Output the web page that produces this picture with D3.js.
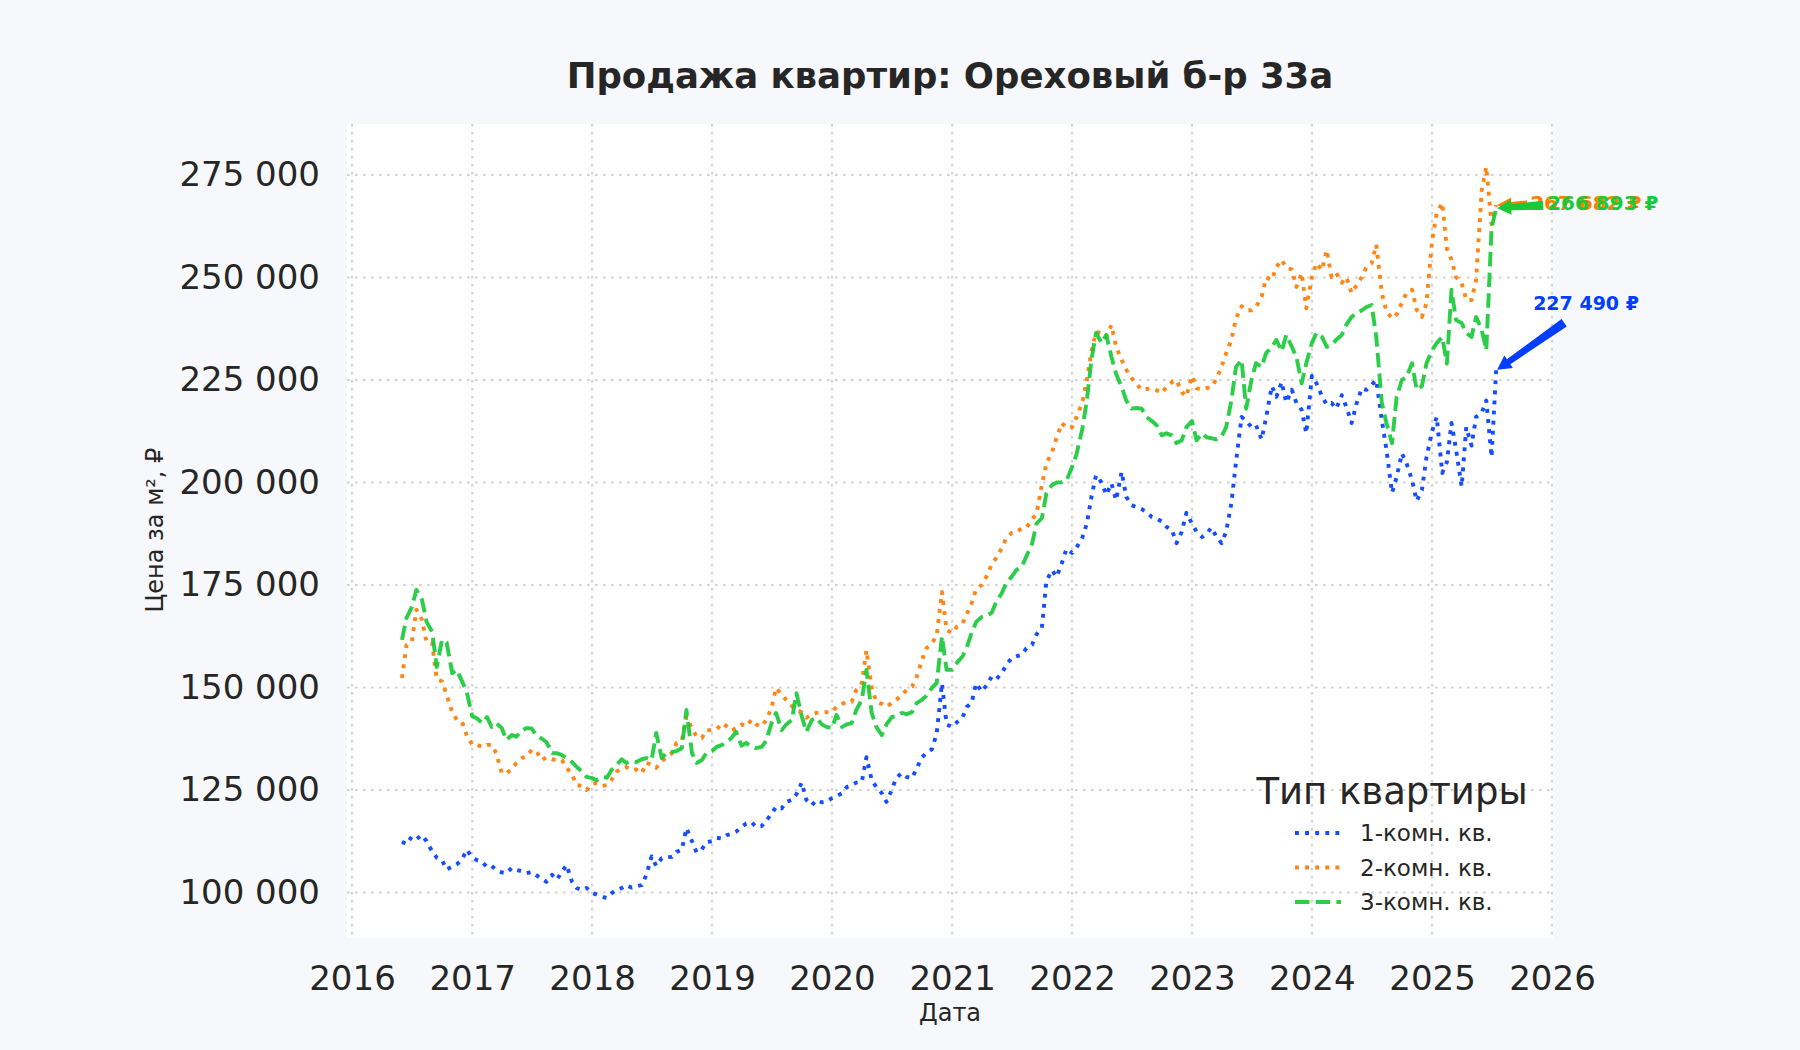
<!DOCTYPE html>
<html>
<head>
<meta charset="utf-8">
<script src="https://cdn.jsdelivr.net/npm/d3@7"></script>
<style>
  body { margin: 0; background: #f6f8fb; }
  svg { display: block; }
  text { font-family: "DejaVu Sans", sans-serif; fill: #262626; }
</style>
</head>
<body>
<svg id="chart" width="1800" height="1050"></svg>
<script>
// --- data: price per m2, thousands of rubles, sampled on the 1st and 15th of each month
// 2016 starts in June, 2025 ends in July
const seriesNames = ["1-комн. кв.", "2-комн. кв.", "3-комн. кв."];
const yearTicks = [2016, 2017, 2018, 2019, 2020, 2021, 2022, 2023, 2024, 2025, 2026];
const priceTicks = [100000, 125000, 150000, 175000, 200000, 225000, 250000, 275000];

const room1 = [
  112.4, 111.8, 113.6, 113.0, 114.0, 112.5, 110.0, 108.5, 107.9, 105.6, 106.3, 106.9, 108.0, 110.4,
  108.6, 107.9, 107.4, 106.2, 106.5, 105.5, 104.9, 104.7, 106.0, 105.5, 105.2, 104.7, 105.0, 104.2, 103.4, 102.6, 104.3, 103.1, 105.0, 106.7, 102.6, 101.1, 100.6, 101.1,
  99.9, 99.5, 98.9, 98.7, 99.8, 100.6, 101.1, 101.8, 101.2, 101.5, 101.8, 104.3, 108.8, 106.5, 108.4, 108.6, 108.7, 109.9, 110.4, 115.7, 112.5, 109.8, 110.5, 112.3,
  112.5, 113.3, 113.2, 114.0, 114.3, 114.8, 116.0, 116.8, 117.2, 116.0, 116.2, 117.5, 119.2, 120.9, 120.5, 122.1, 122.6, 124.0, 126.8, 122.6, 121.3, 122.5, 122.0, 122.1,
  123.0, 123.5, 124.2, 125.7, 126.2, 126.8, 127.0, 133.0, 127.5, 125.7, 124.2, 122.1, 125.0, 128.0, 129.1, 128.2, 127.9, 130.3, 133.0, 134.0, 135.0, 138.9, 151.0, 141.0,
  140.4, 141.5, 142.6, 145.3, 146.2, 151.0, 149.0, 150.5, 152.6, 152.0, 153.5, 155.5, 157.2, 157.6, 158.0, 159.6, 160.4, 163.0, 164.5, 176.0, 178.6, 177.0, 180.4, 183.8,
  182.8, 184.2, 186.5, 190.0, 196.5, 201.8, 200.0, 197.0, 199.8, 195.7, 202.6, 196.5, 194.5, 194.0, 193.5, 192.8, 191.6, 191.2, 190.5, 189.2, 188.4, 185.2, 188.0, 192.6,
  190.0, 188.0, 186.7, 187.5, 189.0, 187.0, 185.2, 188.0, 195.0, 205.0, 216.0, 215.0, 213.5, 214.0, 210.5, 216.0, 223.5, 220.9, 224.5, 219.5, 222.6, 219.4, 217.7, 212.0,
  226.0, 224.2, 221.0, 219.0, 219.4, 218.0, 221.3, 218.4, 214.5, 219.0, 223.0, 222.6, 223.8, 225.0, 215.2, 208.0, 197.5, 201.3, 207.1, 204.7, 200.6, 195.5, 198.2, 206.2,
  212.5, 216.0, 202.3, 205.0, 214.5, 208.0, 199.0, 213.5, 209.0, 216.0, 217.0, 220.0, 206.2, 227.49
];

const room2 = [
  152.3, 160.4, 161.1, 169.0, 166.5, 161.0, 160.8, 152.0, 151.5, 148.2, 144.0, 142.1, 141.6, 138.4,
  136.0, 136.0, 135.5, 136.0, 136.0, 134.0, 129.1, 129.1, 130.0, 131.6, 132.8, 133.2, 134.8, 134.5, 132.3, 133.0, 132.5, 132.3, 132.3, 130.5, 128.7, 126.2, 126.0, 125.0,
  126.5, 126.7, 126.0, 126.2, 127.5, 129.4, 130.3, 130.6, 129.9, 130.0, 129.1, 131.6, 131.2, 130.4, 132.0, 133.0, 134.0, 136.5, 137.0, 142.8, 140.0, 138.0, 137.7, 139.6,
  139.6, 139.8, 141.3, 140.5, 139.5, 140.0, 141.0, 140.5, 142.1, 141.0, 140.5, 142.1, 145.0, 149.9, 148.2, 147.0, 145.5, 144.5, 144.0, 142.6, 143.5, 143.8, 143.8, 144.0,
  144.0, 145.3, 146.0, 146.5, 146.5, 149.4, 151.1, 159.1, 150.0, 146.5, 146.0, 145.3, 146.2, 147.0, 148.2, 149.4, 150.2, 152.6, 156.7, 159.6, 160.8, 162.8, 173.3, 164.0,
  163.3, 164.8, 165.5, 168.0, 170.5, 174.0, 175.0, 177.0, 179.9, 181.6, 184.0, 186.5, 187.7, 187.8, 188.9, 189.0, 190.9, 192.6, 199.4, 204.7, 207.4, 211.0, 214.5, 213.3,
  213.5, 216.0, 219.5, 225.0, 232.0, 236.7, 236.5, 235.5, 238.4, 233.1, 229.9, 227.5, 225.5, 224.2, 222.6, 222.8, 223.0, 222.5, 221.8, 223.3, 224.5, 225.0, 222.0, 221.0,
  226.0, 223.0, 222.6, 223.0, 223.3, 225.0, 228.2, 231.5, 234.8, 240.0, 243.0, 242.0, 242.0, 242.8, 245.3, 250.0, 249.4, 252.6, 254.3, 252.3, 252.0, 247.7, 251.1, 242.5,
  250.1, 253.5, 251.8, 256.7, 250.1, 251.1, 248.7, 250.1, 246.2, 248.0, 250.1, 252.6, 253.5, 258.0, 246.2, 241.8, 240.0, 241.0, 243.8, 246.2, 247.0, 242.1, 240.4, 243.8,
  259.1, 265.7, 268.2, 257.0, 254.3, 250.1, 248.7, 244.5, 244.5, 249.4, 271.3, 277.0, 263.0, 267.682
];

const room3 = [
  161.6, 167.0, 169.6, 173.8, 171.4, 166.0, 163.6, 155.0, 161.6, 161.0, 153.5, 154.3, 151.5, 149.0,
  143.0, 142.5, 141.3, 142.8, 140.4, 141.3, 140.1, 137.2, 138.4, 138.0, 139.5, 140.1, 140.0, 138.4, 137.5, 136.7, 134.0, 134.0, 133.5, 132.8, 131.8, 130.6, 129.5, 128.2,
  127.9, 127.4, 128.2, 128.0, 129.9, 131.0, 132.5, 131.6, 132.0, 131.8, 132.5, 132.8, 132.3, 138.9, 132.8, 134.0, 134.3, 134.5, 135.2, 144.5, 134.0, 131.6, 132.3, 134.0,
  134.5, 135.5, 136.0, 136.7, 137.7, 139.2, 135.8, 136.5, 135.5, 135.2, 135.5, 137.0, 141.3, 143.8, 139.6, 141.0, 142.1, 148.6, 143.0, 139.2, 142.1, 142.6, 141.0, 140.4,
  140.1, 143.3, 140.4, 141.0, 141.3, 144.5, 147.0, 154.3, 143.8, 140.4, 138.4, 141.0, 142.8, 143.0, 143.8, 143.5, 144.0, 146.2, 147.0, 148.0, 150.0, 151.1, 162.5, 154.3,
  154.3, 156.0, 157.5, 159.9, 163.3, 166.0, 167.2, 167.5, 168.2, 170.9, 173.0, 175.5, 177.0, 178.6, 179.5, 182.0, 185.0, 190.0, 191.3, 197.4, 199.4, 200.0, 200.1, 200.5,
  203.8, 207.0, 213.0, 220.0, 230.0, 236.5, 234.0, 236.0, 230.6, 226.5, 223.3, 220.0, 218.0, 218.2, 218.0, 216.0, 215.0, 214.0, 211.5, 212.0, 211.5, 209.6, 210.3, 213.5,
  215.0, 210.3, 212.0, 211.0, 210.8, 210.5, 211.2, 213.5, 220.0, 228.2, 229.9, 218.0, 225.0, 229.1, 228.2, 231.6, 233.0, 234.8, 232.0, 236.0, 233.1, 230.6, 224.2, 229.1,
  234.0, 236.5, 235.5, 233.1, 233.5, 234.8, 236.0, 238.5, 240.4, 241.2, 242.0, 242.8, 243.3, 235.5, 219.4, 214.5, 209.6, 220.9, 225.0, 225.7, 229.1, 222.6, 223.5, 229.1,
  232.3, 234.0, 235.5, 229.0, 247.0, 239.6, 238.9, 236.5, 235.5, 240.4, 237.2, 232.3, 262.0, 266.893
];

// sampling dates: 1st and 15th of every month, Jun 2016 .. Jul 2025
const months = d3.timeMonth.range(new Date(2016, 5, 1), new Date(2025, 7, 1));
const dates = months.flatMap(m => [m, d3.timeDay.offset(m, 14)]);

// --- styles
const colors = ["#023eff", "#ff7c00", "#1ac938"];
const dashes = ["3.9,6.2", "3.9,6.2", "14.5,6.2"];
const labelPos = [            // text / arrow-tail offsets from the last point
  { dx: 37, dy: -60, tx: 68, ty: -47 },
  { dx: 34, dy: 5, tx: 31, ty: 0 },
  { dx: 51, dy: 2, tx: 47, ty: -3 }
];

const svg = d3.select("#chart");
const W = 1800, H = 1050;
const plot = { left: 347, right: 1553, top: 124, bottom: 938 };

const ru = d3.formatLocale({ decimal: ",", thousands: " ", grouping: [3], currency: ["", " ₽"] });
const fmt = ru.format(",.0f");

const x = d3.scaleTime()
  .domain([new Date(2016, 0, 1), new Date(2026, 0, 1)])
  .range([352, 1552]);
const y = d3.scaleLinear()
  .domain([100000, 275000])
  .range([892.5, 175]);

svg.append("rect").attr("width", W).attr("height", H).attr("fill", "#f6f8fb");
svg.append("rect")
  .attr("x", plot.left).attr("y", plot.top)
  .attr("width", plot.right - plot.left).attr("height", plot.bottom - plot.top)
  .attr("fill", "#ffffff");

// grid
const grid = svg.append("g")
  .attr("stroke", "#d2d2d2").attr("stroke-width", 2.2).attr("stroke-dasharray", "2.6,5.4");
grid.selectAll(".gx").data(yearTicks).join("line")
  .attr("x1", d => x(new Date(d, 0, 1))).attr("x2", d => x(new Date(d, 0, 1)))
  .attr("y1", plot.top).attr("y2", plot.bottom);
grid.selectAll(".gy").data(priceTicks).join("line")
  .attr("x1", plot.left).attr("x2", plot.right)
  .attr("y1", d => y(d)).attr("y2", d => y(d));

// axes
const xAxis = svg.append("g")
  .attr("transform", `translate(0,${plot.bottom})`)
  .call(d3.axisBottom(x)
    .tickValues(yearTicks.map(d => new Date(d, 0, 1)))
    .tickFormat(d3.timeFormat("%Y"))
    .tickSize(0).tickPadding(28));
const yAxis = svg.append("g")
  .attr("transform", `translate(${plot.left},0)`)
  .call(d3.axisLeft(y).tickValues(priceTicks).tickFormat(fmt).tickSize(0).tickPadding(27));
[xAxis, yAxis].forEach(g => {
  g.select(".domain").remove();
  g.selectAll("text").attr("font-size", 34).attr("font-family", "DejaVu Sans").attr("fill", "#262626");
});

// lines
const series = [room1, room2, room3].map((vals, i) => ({
  name: seriesNames[i],
  points: vals.map((v, j) => ({ date: dates[j], value: v * 1000 }))
}));

const line = d3.line().x(d => x(d.date)).y(d => y(d.value));
svg.append("g").selectAll("path").data(series).join("path")
  .attr("d", d => line(d.points))
  .attr("fill", "none")
  .attr("stroke", (d, i) => colors[i])
  .attr("stroke-opacity", 0.92)
  .attr("stroke-width", 3.9)
  .attr("stroke-dasharray", (d, i) => dashes[i])
  .attr("stroke-linejoin", "round");

// last value annotations
function arrowPath(x0, y0, x1, y1) {
  const len = Math.hypot(x1 - x0, y1 - y0);
  const ux = (x1 - x0) / len, uy = (y1 - y0) / len;
  const nx = -uy, ny = ux;
  const hl = 14, hw = 7.5, wt = 4.5, wb = 3;
  const bx = x1 - ux * hl, by = y1 - uy * hl;
  const pts = [
    [x0 + nx * wt, y0 + ny * wt], [bx + nx * wb, by + ny * wb], [bx + nx * hw, by + ny * hw],
    [x1, y1],
    [bx - nx * hw, by - ny * hw], [bx - nx * wb, by - ny * wb], [x0 - nx * wt, y0 - ny * wt]
  ];
  return "M" + pts.map(p => p.join(",")).join("L") + "Z";
}

const ann = svg.append("g");
series.forEach((s, i) => {
  const last = s.points[s.points.length - 1];
  const px = x(last.date), py = y(last.value);
  const p = labelPos[i];
  ann.append("path")
    .attr("d", arrowPath(px + p.tx, py + p.ty, px + 1, py))
    .attr("fill", colors[i]);
  ann.append("text")
    .attr("x", px + p.dx).attr("y", py + p.dy)
    .attr("font-size", i === 0 ? 19 : 20).attr("font-weight", "bold")
    .style("fill", colors[i])
    .text(fmt(last.value) + " ₽");
});

// titles
svg.append("text")
  .attr("x", 950).attr("y", 88).attr("text-anchor", "middle")
  .attr("font-size", 35.5).attr("font-weight", "bold")
  .text("Продажа квартир: Ореховый б-р 33а");
svg.append("text")
  .attr("x", 950).attr("y", 1021).attr("text-anchor", "middle")
  .attr("font-size", 24)
  .text("Дата");
svg.append("text")
  .attr("transform", "translate(163,530) rotate(-90)").attr("text-anchor", "middle")
  .attr("font-size", 24)
  .text("Цена за м², ₽");

// legend
const legend = svg.append("g");
legend.append("text")
  .attr("x", 1392).attr("y", 804).attr("text-anchor", "middle")
  .attr("font-size", 37)
  .text("Тип квартиры");
const item = legend.selectAll(".item").data(series).join("g")
  .attr("transform", (d, i) => `translate(1295,${833 + i * 34.5})`);
item.append("line")
  .attr("x1", 0).attr("x2", 46)
  .attr("stroke", (d, i) => colors[i]).attr("stroke-opacity", 0.92)
  .attr("stroke-width", 3.9)
  .attr("stroke-dasharray", (d, i) => dashes[i]);
item.append("text")
  .attr("x", 65).attr("dy", "0.36em")
  .attr("font-size", 23)
  .text(d => d.name);
</script>
</body>
</html>
